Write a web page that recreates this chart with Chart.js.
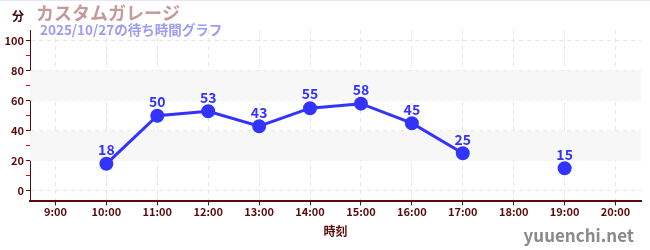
<!DOCTYPE html>
<html>
<head>
<meta charset="utf-8">
<script src="https://cdn.jsdelivr.net/npm/chart.js@4"></script>
<style>
  html, body { margin: 0; padding: 0; background: #fff; }
  #wrap { width: 650px; height: 250px; position: relative; border-top: 1px solid #e6e6f8; box-sizing: border-box; }
</style>
</head>
<body>
<div id="wrap"><canvas id="chart" width="650" height="249"></canvas></div>
<script>
// chart data
const hours = ['9:00', '10:00', '11:00', '12:00', '13:00', '14:00', '15:00', '16:00', '17:00', '18:00', '19:00', '20:00'];
const waits = [null, 18, 50, 53, 43, 55, 58, 45, 25, null, 15, null];
const yTicks = [0, 10, 20, 30, 40, 50, 60, 70, 80, 90, 100];
const bands = [[20, 40], [60, 80]];

const titleText = 'カスタムガレージ';
const subText = '2025/10/27の待ち時間グラフ';
const unitText = '分';
const siteText = 'yuuenchi.net';

const fam = '"Noto Sans CJK JP", "Noto Sans", sans-serif';
const dark = '#5a0a0a';
const blue = '#3333ff';

// alternating background bands + overlay texts
const decor = {
  id: 'decor',
  beforeDatasetsDraw(chart) {
    const { ctx, chartArea: a, scales: { y } } = chart;
    ctx.save();
    ctx.fillStyle = '#f7f7f7';
    bands.forEach(([lo, hi]) => {
      const t = y.getPixelForValue(hi), b = y.getPixelForValue(lo);
      ctx.fillRect(a.left, t, a.right - a.left, b - t);
    });
    ctx.restore();
  },
  afterDatasetsDraw(chart) {
    const { ctx } = chart;
    const meta = chart.getDatasetMeta(0);
    ctx.save();
    ctx.fillStyle = blue;
    ctx.font = 'bold 14px ' + fam;
    ctx.textAlign = 'center';
    ctx.textBaseline = 'bottom';
    meta.data.forEach((pt, i) => {
      if (waits[i] == null) return;
      ctx.fillText(waits[i], pt.x, pt.y - 7);
    });
    ctx.restore();
  },
  afterDraw(chart) {
    const { ctx } = chart;
    ctx.save();
    ctx.textBaseline = 'alphabetic';
    ctx.textAlign = 'left';
    ctx.fillStyle = '#3a0808';
    ctx.font = 'bold 12px ' + fam;
    ctx.fillText(unitText, 12, 20);
    ctx.fillStyle = '#c49a9a';
    ctx.font = 'bold 18px ' + fam;
    ctx.fillText(titleText, 36, 19);
    ctx.fillStyle = '#9c9cf4';
    ctx.font = 'bold 13.5px ' + fam;
    ctx.fillText(subText, 40, 34);
    ctx.fillStyle = '#8a8a8a';
    ctx.font = 'bold 17px ' + fam;
    ctx.textAlign = 'right';
    ctx.fillText(siteText, 634, 241);
    ctx.restore();
  },
};

new Chart(document.getElementById('chart'), {
  type: 'line',
  data: {
    labels: hours,
    datasets: [{
      data: waits,
      borderColor: blue,
      backgroundColor: blue,
      pointBackgroundColor: blue,
      pointBorderColor: blue,
      pointRadius: 5.5,
      borderWidth: 3,
      spanGaps: false,
      tension: 0,
    }],
  },
  options: {
    responsive: false,
    animation: false,
    layout: { padding: { top: 29, right: 9, left: 0, bottom: 11 } },
    plugins: {
      legend: { display: false },
      tooltip: { enabled: false },
    },
    scales: {
      x: {
        offset: true,
        grid: {
          color: '#e6e6e6',
          tickColor: dark,
          tickLength: 4,
          offset: false,
        },
        border: { color: dark, width: 2, dash: [4, 4] },
        ticks: { color: dark, font: { family: fam, size: 11, weight: 'bold' }, padding: 0, maxRotation: 0 },
        title: {
          display: true,
          text: '時刻',
          color: dark,
          font: { family: fam, size: 12, weight: 'bold' },
          padding: { top: 6, bottom: 0 },
        },
      },
      y: {
        min: -7,
        max: 107,
        afterBuildTicks: s => { s.ticks = yTicks.map(v => ({ value: v })); },
        afterFit: s => { s.width = 30; },
        grid: {
          color: c => (c.tick && c.tick.value % 20 === 0) ? '#e6e6e6' : 'transparent',
          tickColor: c => (c.tick && c.tick.value % 20 === 0) ? dark : '#e00000',
          tickLength: 4,
        },
        border: { color: dark, width: 1, dash: [4, 4] },
        ticks: {
          color: dark,
          font: { family: fam, size: 11, weight: 'bold' },
          padding: 2,
          callback: v => (v % 20 === 0 ? v : ''),
        },
      },
    },
  },
  plugins: [decor],
});
</script>
</body>
</html>
